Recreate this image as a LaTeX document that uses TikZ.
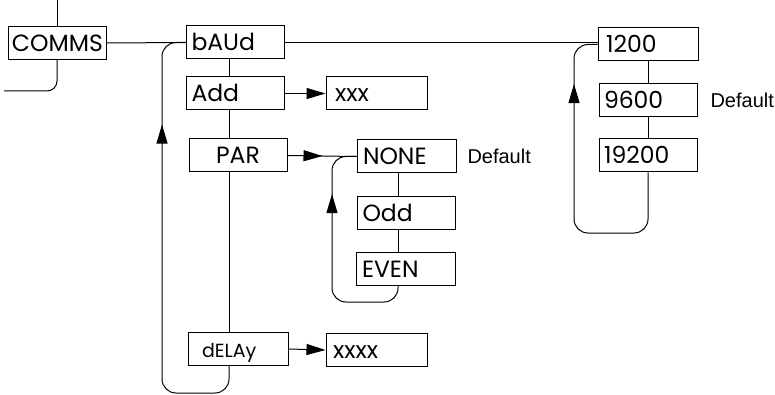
\documentclass[tikz,border=0pt]{standalone}
\usepackage{fontspec}
\setmainfont{Poppins}
\newfontfamily\notefont{Liberation Sans}
\usetikzlibrary{arrows.meta,decorations.markings}

\tikzset{
  box/.style={draw, minimum height=33pt, text width=88pt, inner xsep=5pt, inner ysep=0pt,
    text height=17pt, text depth=0pt, align=left, font=\fontsize{23.5}{25}\selectfont},
  note/.style={anchor=west, inner sep=0pt, font=\notefont\fontsize{20}{22}\selectfont},
  tip/.style={-{Triangle[length=19pt,width=11pt]}},
  midtip/.style={postaction={decorate}, decoration={markings,
    mark=at position #1 with {\arrow{Triangle[length=19pt,width=11pt]}}}},
}

\begin{document}
\begin{tikzpicture}[x=1pt,y=-1pt,line width=1pt]
        \useasboundingbox (0,0) rectangle (775,395);
        % Helper points
        \coordinate (feed) at (57,0);
        \coordinate (back) at (4,91);
        \coordinate (spine) at (229,0);
        \coordinate (pcol) at (398,0);
        \coordinate (lowL) at (162,393);
        \coordinate (lowP) at (332,302);
        \coordinate (lowR) at (574,233);
        % Menu column
        \node[box, inner xsep=4pt, text width=90pt] (comms) at (57,43) {COMMS};
        \node[box] (baud) at (235.5,42.5) {bAUd};
        \node[box] (add) at (235.5,93.5) {Add};
        \node[box, align=center] (par) at (238,155.5) {PAR};
        \node[box, inner xsep=14pt, text width=72pt, font=\fontsize{19}{20}\selectfont] (dly) at (238,349) {dELAy};
        % Values
        \node[box, inner xsep=9pt, text width=83pt] (xxx) at (376.5,93.5) {xxx};
        \node[box, inner xsep=7pt, text width=87pt] (xxxx) at (376.5,350) {xxxx};
        % Parity
        \node[box, inner xsep=6pt, text width=87pt] (none) at (406.5,156.5) {NONE};
        \node[box] (odd) at (406.5,213) {Odd};
        \node[box, inner xsep=6pt, text width=87pt] (even) at (405.5,268.5) {EVEN};
        \node[note] (dpar) at (467,156) {Default};
        % Baud rates
        \node[box, inner xsep=8pt, text width=84pt] (b1200) at (648,44.5) {1200};
        \node[box] (b9600) at (648,100) {9600};
        \node[box] (b19200) at (648,155.5) {19200};
        \node[note] (dbaud) at (710,100) {Default};
        % Edges
        \draw (feed) -- (comms.north);
        \draw[rounded corners=10pt] (comms.south) |- (back);
        \draw (comms.east) -- (baud.west);
        \draw (baud.east) -- (baud.east -| b1200.west);
        \draw (baud.south -| spine) -- (add.north -| spine);
        \draw (add.south -| spine) -- (par.north -| spine);
        \draw (par.south -| spine) -- (dly.north -| spine);
        \draw[tip] (add.east) -- (xxx.west);
        \draw[tip] (dly.east) -- (xxxx.west);
        \draw[midtip=35pt] (par.east) -- (none.west);
        \draw (none.south -| pcol) -- (odd.north -| pcol);
        \draw (odd.south -| pcol) -- (even.north -| pcol);
        \draw (b1200.south) -- (b9600.north);
        \draw (b9600.south) -- (b19200.north);
        % Loops back
        \draw[rounded corners=14pt, midtip=-100pt] (dly.south -| spine) |- (lowL) |- (baud.west);
        \draw[rounded corners=14pt, midtip=-56pt] (even.south -| pcol) |- (lowP) |- (none.west);
        \draw[rounded corners=14pt, midtip=-57pt] (b19200.south) |- (lowR) |- (b1200.west);
    \end{tikzpicture}
\end{document}
